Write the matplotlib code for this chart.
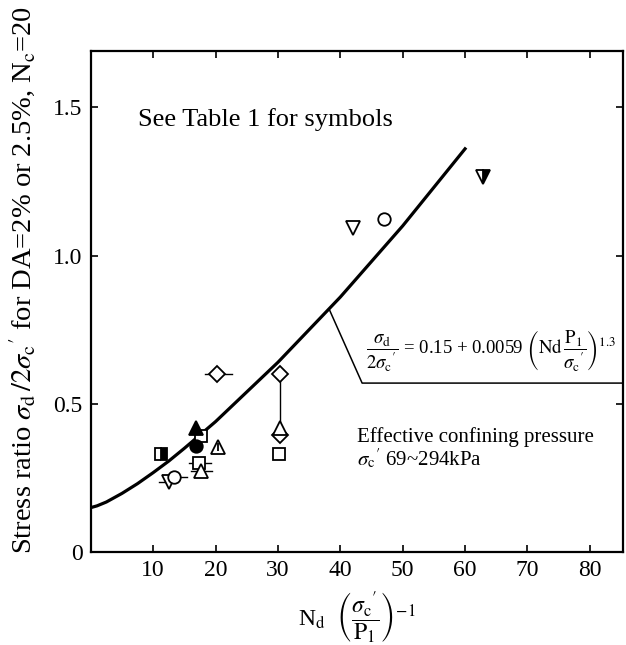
import matplotlib
matplotlib.use("Agg")
import matplotlib.pyplot as plt

plt.rcParams['font.family'] = ['Liberation Serif', 'DejaVu Serif']
plt.rcParams['mathtext.fontset'] = 'stix'

# fitted curve
curve_x = [0, 1, 2.5, 5, 7.5, 10, 12.5, 15, 17.5, 20, 25, 30, 35, 40, 45, 50, 55, 60]
curve_y = [0.15, 0.156, 0.169, 0.198, 0.231, 0.268, 0.307, 0.35, 0.395, 0.44,
           0.54, 0.64, 0.75, 0.86, 0.98, 1.10, 1.23, 1.36]

# test results grouped by symbol
open_diamond_x = [20.3, 30.3, 30.3]
open_diamond_y = [0.60, 0.60, 0.395]
open_square_x = [17.7, 17.3, 30.1]
open_square_y = [0.39, 0.30, 0.33]
open_tri_up_x = [17.7, 30.3]
open_tri_up_y = [0.275, 0.42]
open_tri_down_x = [12.5, 42.1]
open_tri_down_y = [0.235, 1.094]
open_circle_x = [13.4, 47.0]
open_circle_y = [0.254, 1.125]
filled_tri_up_x = [16.9]
filled_tri_up_y = [0.42]
filled_circle_x = [16.9]
filled_circle_y = [0.357]
half_square_x = [11.3]
half_square_y = [0.33]
half_tri_down_x = [62.8]
half_tri_down_y = [1.266]
barred_tri_x = [20.4]
barred_tri_y = [0.354]

# horizontal scatter bars (y, left, right)
bar_y = [0.60, 0.30, 0.275, 0.254, 0.235]
bar_lo = [18.3, 15.8, 16.1, 12.6, 10.9]
bar_hi = [22.6, 19.3, 19.5, 15.5, 13.1]

# linked results at Nd = 30
link_x = [30.3, 30.3]
link_y = [0.60, 0.40]

fig = plt.figure(figsize=(6.26, 6.45), dpi=100)
ax = fig.add_axes([0.145, 0.144, 0.850, 0.777])

ax.plot(curve_x, curve_y, color='black', lw=2.3, zorder=2)

for yv, lo, hi in zip(bar_y, bar_lo, bar_hi):
    ax.plot([lo, hi], [yv, yv], color='black', lw=1.0, zorder=2)
ax.plot(link_x, link_y, color='black', lw=1.0, zorder=2)

kw = dict(ls='none', color='black', mec='black', mew=1.3, zorder=3)
ax.plot(open_diamond_x, open_diamond_y, marker='D', ms=8, mfc='white', **kw)
ax.plot(open_square_x, open_square_y, marker='s', ms=8, mfc='white', **kw)
ax.plot(open_tri_up_x, open_tri_up_y, marker='^', ms=10, mfc='white', **kw)
ax.plot(open_tri_down_x, open_tri_down_y, marker='v', ms=10, mfc='white', **kw)
ax.plot(open_circle_x, open_circle_y, marker='o', ms=9, mfc='white', **kw)
ax.plot(filled_tri_up_x, filled_tri_up_y, marker='^', ms=10, mfc='black', **kw)
ax.plot(filled_circle_x, filled_circle_y, marker='o', ms=9, mfc='black', **kw)
ax.plot(half_square_x, half_square_y, marker='s', ms=8, fillstyle='right',
        mfcalt='white', **kw)
ax.plot(half_tri_down_x, half_tri_down_y, marker='v', ms=10, fillstyle='right',
        mfcalt='white', **kw)
ax.plot(barred_tri_x, barred_tri_y, marker='^', ms=10, mfc='white', **kw)
ax.plot(barred_tri_x, barred_tri_y, marker='|', ms=6, **kw)

# leader line to the equation
ax.plot([38.2, 43.5, 85.3], [0.82, 0.57, 0.57], color='black', lw=1.1)
ax.text(44.2, 0.68,
        r"$\dfrac{\sigma_{\rm d}}{2\sigma_{\rm c}{}'}$ = 0.15 + 0.0059 "
        r"$\left(\mathrm{Nd}\,\dfrac{\mathrm{P_1}}{\sigma_{\rm c}{}'}\right)^{1.3}$",
        fontsize=13.5, va='center', ha='left')

ax.text(7.5, 1.46, "See Table 1 for symbols", fontsize=19, va='center')
ax.text(42.6, 0.42, "Effective confining pressure\n"
        r"$\sigma_{\rm c}{}'$ 69~294kPa",
        fontsize=15, va='top', ha='left', linespacing=1.0)

ax.set_xlim(0, 85.3)
ax.set_ylim(0, 1.69)
ax.set_xticks([10, 20, 30, 40, 50, 60, 70, 80])
ax.set_yticks([0, 0.5, 1.0, 1.5])
ax.set_yticklabels(["0", "0.5", "1.0", "1.5"])
ax.tick_params(direction='in', top=True, right=True, length=5, width=1.2,
               labelsize=17, pad=6)
for s in ax.spines.values():
    s.set_linewidth(1.6)

fig.text(0.037, 0.566,
         r"Stress ratio $\sigma_{\rm d}\,/2\sigma_{\rm c}{}'$ for DA=2% or 2.5%, N$_{\rm c}$=20",
         rotation=90, fontsize=20.5, va='center', ha='center')
fig.text(0.57, 0.042,
         r"N$_{\rm d}$  $\left(\dfrac{\sigma_{\rm c}{}'}{\mathrm{P_1}}\right)^{-1}$",
         fontsize=17, va='center', ha='center')

fig.savefig("out.png", dpi=100)
